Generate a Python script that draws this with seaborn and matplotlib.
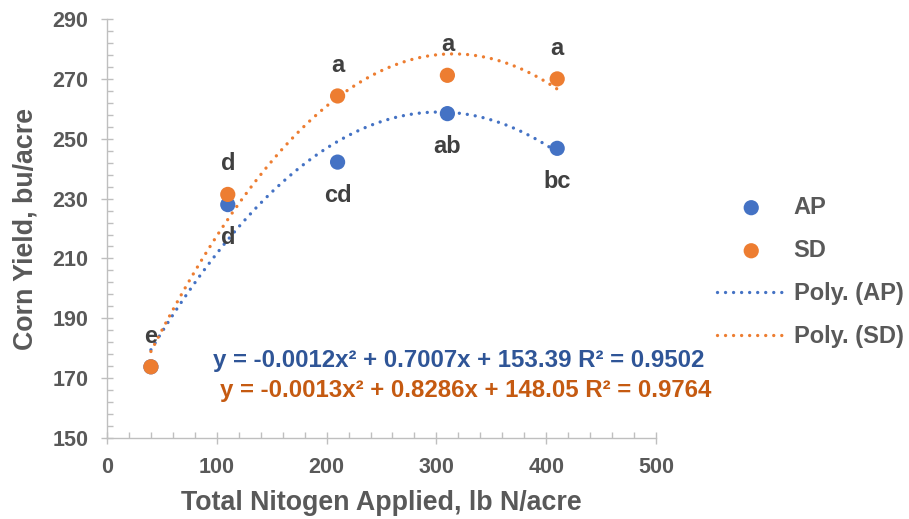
import numpy as np
import pandas as pd
import matplotlib
matplotlib.use("Agg")
import matplotlib.pyplot as plt
import seaborn as sns

# data
n_applied = [40, 110, 210, 310, 410]
yield_ap = [173.8, 228.0, 242.2, 258.4, 246.8]
yield_sd = [173.8, 231.4, 264.3, 271.2, 270.0]
letters_ap = ["", "d", "cd", "ab", "bc"]
letters_sd = ["e", "d", "a", "a", "a"]
x_ticks = [0, 100, 200, 300, 400, 500]
y_ticks = [150, 170, 190, 210, 230, 250, 270, 290]
eq_ap = "y = -0.0012x² + 0.7007x + 153.39 R² = 0.9502"
eq_sd = "y = -0.0013x² + 0.8286x + 148.05 R² = 0.9764"

c_ap = "#4472C4"
c_sd = "#ED7D31"
grey = "#595959"

sns.set_theme(style="white")
plt.rcParams["font.family"] = ["Liberation Sans", "DejaVu Sans"]
plt.rcParams["font.weight"] = "bold"

fig = plt.figure(figsize=(9.09, 5.19), dpi=100)
ax = fig.add_axes([0.1177, 0.156, 0.604, 0.8073])

df = pd.DataFrame({"N": n_applied * 2,
                   "yield": yield_ap + yield_sd,
                   "series": ["AP"] * 5 + ["SD"] * 5})

# points
for name, col in [("AP", c_ap), ("SD", c_sd)]:
    sns.scatterplot(data=df[df.series == name], x="N", y="yield", color=col,
                    s=120, edgecolor="none", label=name, ax=ax, zorder=2)

# 2nd order polynomial trend lines (like Excel)
xs = np.linspace(min(n_applied), max(n_applied), 200)
for name, ys, col in [("AP", yield_ap, c_ap), ("SD", yield_sd, c_sd)]:
    coef = np.polyfit(n_applied, ys, 2)
    sns.lineplot(x=xs, y=np.polyval(coef, xs), color=col, linewidth=2.4,
                 linestyle=(0, (0.01, 2.4)), dash_capstyle="round",
                 label=f"Poly. ({name})", ax=ax, zorder=3)

# significance letters
for x, y, t in zip(n_applied, yield_sd, letters_sd):
    ax.annotate(t, (x, y), xytext=(0, 22), textcoords="offset points",
                ha="center", va="center", fontsize=17, color="#404040", fontweight="bold")
for x, y, t in zip(n_applied, yield_ap, letters_ap):
    ax.annotate(t, (x, y), xytext=(0, -24), textcoords="offset points",
                ha="center", va="center", fontsize=17, color="#404040", fontweight="bold")

ax.set_xlim(0, 500)
ax.set_ylim(150, 290)
ax.set_xticks(x_ticks)
ax.set_yticks(y_ticks)
ax.set_xticks(np.arange(0, 501, 20), minor=True)
ax.set_yticks(np.arange(150, 291, 4), minor=True)
ax.tick_params(which="major", direction="inout", length=9, width=1, color="#BFBFBF",
               labelsize=15.5, labelcolor=grey, pad=9, bottom=True, left=True)
ax.tick_params(which="minor", direction="in", length=4, width=1, color="#BFBFBF",
               bottom=True, left=True)
for lab in ax.get_xticklabels() + ax.get_yticklabels():
    lab.set_fontweight("bold")

sns.despine(ax=ax)
for s in ["left", "bottom"]:
    ax.spines[s].set_color("#BFBFBF")
    ax.spines[s].set_linewidth(1)

ax.set_xlabel("Total Nitogen Applied, lb N/acre", fontsize=19.3, color=grey,
              fontweight="bold", labelpad=9)
ax.set_ylabel("Corn Yield, bu/acre", fontsize=19.3, color=grey,
              fontweight="bold", labelpad=10)

# legend in Excel order
h, l = ax.get_legend_handles_labels()
order = [l.index(k) for k in ["AP", "SD", "Poly. (AP)", "Poly. (SD)"]]
if ax.get_legend():
    ax.get_legend().remove()
fig.legend([h[i] for i in order], [l[i] for i in order], loc="center left",
           bbox_to_anchor=(717 / 909, 1 - 272 / 519), frameon=False,
           fontsize=17, labelcolor=grey, handlelength=2.9, handletextpad=0.35,
           labelspacing=0.85, borderpad=0, borderaxespad=0, markerscale=1.0)

fig.text(213 / 909, 1 - 361 / 519, eq_ap, color="#2F5597", fontsize=17.3,
         fontweight="bold", ha="left", va="center")
fig.text(220 / 909, 1 - 391 / 519, eq_sd, color="#C55A11", fontsize=17.3,
         fontweight="bold", ha="left", va="center")

fig.savefig("out.png", dpi=100)
